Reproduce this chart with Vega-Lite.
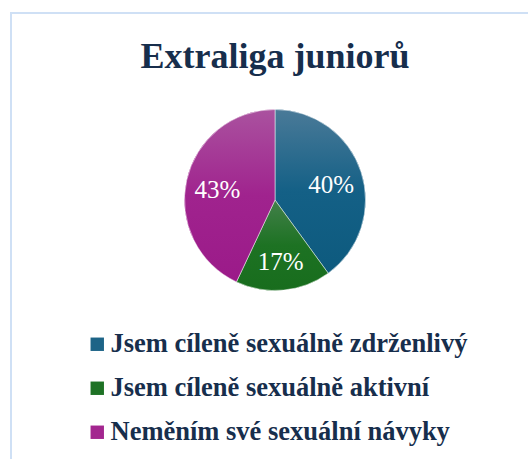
{
  "$schema": "https://vega.github.io/schema/vega-lite/v6.json",
  "autosize": "none",
  "width": 528,
  "height": 460,
  "padding": {"left": 11, "top": 13, "right": 0, "bottom": 0},
  "background": "white",
  "view": {"stroke": "#CFE0F5", "strokeWidth": 2},
  "config": {
    "view": {"stroke": "#CFE0F5", "strokeWidth": 2},
    "font": "Liberation Serif"
  },
  "title": {
    "text": "Extraliga juniorů",
    "font": "Liberation Serif",
    "fontSize": 36,
    "fontWeight": "bold",
    "color": "#172E4C",
    "anchor": "middle",
    "frame": "group",
    "baseline": "alphabetic",
    "offset": 0,
    "dy": 91
  },
  "data": {
    "values": [
      {"kategorie": "Jsem cíleně sexuálně zdrženlivý", "podil": 40, "popisek": "40%", "poradi": 1},
      {"kategorie": "Jsem cíleně sexuálně aktivní", "podil": 17, "popisek": "17%", "poradi": 2},
      {"kategorie": "Neměním své sexuální návyky", "podil": 43, "popisek": "43%", "poradi": 3}
    ]
  },
  "encoding": {
    "theta": {"field": "podil", "type": "quantitative", "stack": true},
    "order": {"field": "poradi", "type": "quantitative"}
  },
  "layer": [
    {
      "mark": {"type": "arc", "radius": 90.5, "yOffset": -43, "stroke": "white", "strokeWidth": 0.5},
      "encoding": {
        "color": {
          "field": "kategorie",
          "type": "nominal",
          "sort": null,
          "scale": {
            "domain": ["Jsem cíleně sexuálně zdrženlivý", "Jsem cíleně sexuálně aktivní", "Neměním své sexuální návyky"],
            "range": ["#1D6487", "#1E7225", "#A3268F"]
          },
          "legend": {
            "title": null,
            "orient": "none",
            "legendX": 73,
            "legendY": 318,
            "symbolType": "square",
            "symbolSize": 180,
            "symbolStrokeWidth": 0,
            "labelFont": "Liberation Serif",
            "labelFontSize": 26.5,
            "labelFontWeight": "bold",
            "labelColor": "#172E4C",
            "labelOffset": 0,
            "labelLimit": 500,
            "rowPadding": 17
          }
        }
      }
    },
    {
      "mark": {"type": "arc", "radius": 90.5, "yOffset": -43, "stroke": "white", "strokeWidth": 0.5},
      "encoding": {
        "fill": {
          "condition": [
            {"test": "datum.poradi === 1", "value": {"gradient": "linear", "x1": 0, "y1": 0, "x2": 0, "y2": 1, "stops": [{"offset": 0, "color": "#4A7A98"}, {"offset": 0.5, "color": "#146086"}, {"offset": 1, "color": "#0D5A7E"}]}},
            {"test": "datum.poradi === 2", "value": {"gradient": "linear", "x1": 0, "y1": 0, "x2": 0, "y2": 1, "stops": [{"offset": 0, "color": "#43804A"}, {"offset": 0.5, "color": "#1D7223"}, {"offset": 1, "color": "#186D1D"}]}}
          ],
          "value": {"gradient": "linear", "x1": 0, "y1": 0, "x2": 0, "y2": 1, "stops": [{"offset": 0, "color": "#AA529F"}, {"offset": 0.5, "color": "#A0238E"}, {"offset": 1, "color": "#9B1A89"}]}
        }
      }
    },
    {
      "mark": {"type": "text", "radius": 59, "yOffset": -40, "font": "Liberation Serif", "fontSize": 25, "color": "white"},
      "encoding": {
        "text": {"field": "popisek", "type": "nominal"}
      }
    }
  ]
}
